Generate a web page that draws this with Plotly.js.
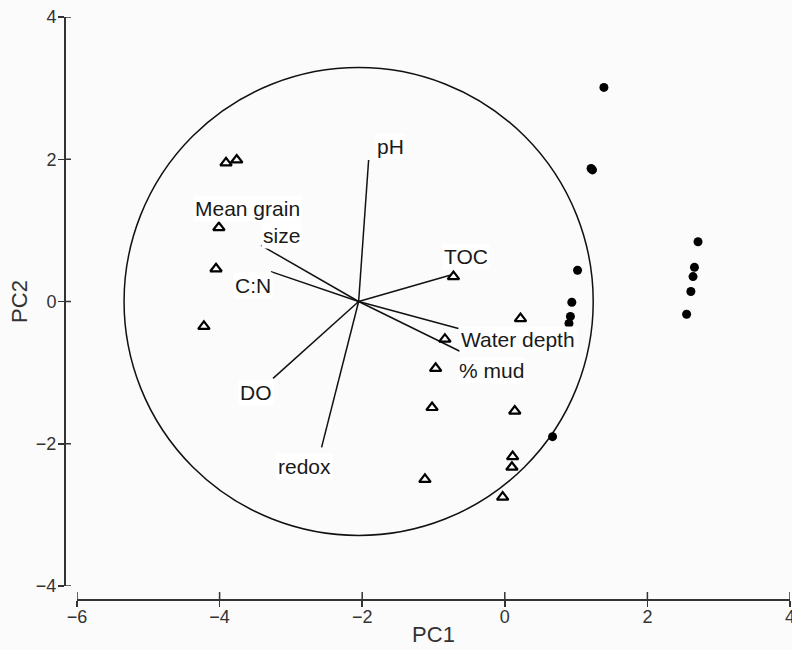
<!DOCTYPE html>
<html>
<head>
<meta charset="utf-8">
<script src="https://cdn.plot.ly/plotly-3.0.1.min.js"></script>
<style>html,body{margin:0;padding:0;background:#fbfbfb;}</style>
</head>
<body>
<div id="chart" style="width:792px;height:650px;"></div>
<script>
// Sample scores (triangles = open, circles = filled)
const triX = [-3.91, -3.76, -4.01, -4.05, -4.22, -0.72, 0.22, -0.84, -0.97, -1.02, 0.14, 0.11, 0.10, -1.12, -0.03];
const triY = [1.95, 1.99, 1.04, 0.46, -0.35, 0.35, -0.24, -0.53, -0.94, -1.49, -1.54, -2.18, -2.33, -2.50, -2.75];
const dotX = [1.39, 1.21, 1.23, 1.02, 0.94, 0.92, 0.90, 0.67, 2.71, 2.66, 2.64, 2.61, 2.55];
const dotY = [3.01, 1.87, 1.85, 0.44, -0.01, -0.21, -0.31, -1.90, 0.84, 0.48, 0.35, 0.14, -0.18];

// Environmental vectors (origin + end points)
const vecOrigin = [-2.05, 0.0];
const vecNames = ["pH", "Mean grain size", "C:N", "TOC", "Water depth", "% mud", "DO", "redox"];
const vecEndX = [-1.91, -3.42, -3.28, -0.77, -0.65, -0.63, -3.25, -2.57];
const vecEndY = [1.99, 0.79, 0.42, 0.37, -0.38, -0.70, -1.08, -2.05];

// Correlation circle
const circleRadius = 3.29;

// Axis ticks
const xTicks = [-6, -4, -2, 0, 2, 4];
const yTicks = [-4, -2, 0, 2, 4];

// Label placement (data coords), kept separate from values
const labelText = ["pH", "Mean grain", "size", "C:N", "TOC", "Water depth", "% mud", "DO", "redox"];
const labelX = [-1.61, -2.85, -2.85, -3.53, -0.55, 0.18, -0.18, -3.49, -2.81];
const labelY = [2.18, 1.31, 0.93, 0.22, 0.63, -0.53, -0.97, -1.28, -2.32];
const labelAnchor = ["center", "right", "right", "center", "center", "center", "center", "center", "center"];

const vx = [], vy = [];
for (let i = 0; i < vecNames.length; i++) {
  vx.push(vecOrigin[0], vecEndX[i], null);
  vy.push(vecOrigin[1], vecEndY[i], null);
}

const traces = [
  {x: vx, y: vy, mode: 'lines', line: {color: '#111', width: 1.5}, hoverinfo: 'skip', showlegend: false},
  {x: triX, y: triY, mode: 'markers', showlegend: false,
   marker: {symbol: 'triangle-up-open', size: 10, color: '#000', line: {width: 2.2, color: '#000'}}},
  {x: dotX, y: dotY, mode: 'markers', showlegend: false,
   marker: {symbol: 'circle', size: 9, color: '#000'}}
];

const labelFont = {family: 'Liberation Sans, Arial, sans-serif', size: 21, color: '#1a1a1a'};
const annotations = labelText.map((t, i) => ({
  x: labelX[i], y: labelY[i], xref: 'x', yref: 'y', text: t, showarrow: false,
  xanchor: labelAnchor[i], yanchor: 'middle', bgcolor: '#ffffff', borderpad: 1,
  font: labelFont
}));

const W = 792, H = 650;
const ml = 64, mr = 2, mt = 17, mb = 51;
const pw = W - ml - mr, ph = H - mt - mb;
const xDom = [(77 - ml) / pw, 1];
const yDom = [(599 - 586) / ph, 1];

const axFont = {family: 'Liberation Sans, Arial, sans-serif', size: 18, color: '#333'};
const titleFont = {family: 'Liberation Sans, Arial, sans-serif', size: 22, color: '#333'};
const common = {showgrid: false, zeroline: false, tickcolor: '#333', tickwidth: 1.5, automargin: false};

// inner halves of the crossing tick marks (axis decoration built from the tick arrays)
const tickShapes = [];
xTicks.forEach(t => tickShapes.push({
  type: 'line', xref: 'x', yref: 'paper', ysizemode: 'pixel', yanchor: 0,
  x0: t, x1: t, y0: 0, y1: 7, line: {color: '#333', width: 1.5}
}));
yTicks.forEach(t => tickShapes.push({
  type: 'line', yref: 'y', xref: 'paper', xsizemode: 'pixel', xanchor: 0,
  y0: t, y1: t, x0: 0, x1: 7, line: {color: '#333', width: 1.5}
}));

const layout = {
  width: W, height: H,
  margin: {l: ml, r: mr, t: mt, b: mb, pad: 0},
  paper_bgcolor: '#fbfbfb', plot_bgcolor: '#fbfbfb',
  showlegend: false,
  xaxis: Object.assign({}, common, {
    range: [-6, 4], domain: xDom, anchor: 'free', position: 0,
    showline: true, linecolor: '#333', linewidth: 1.5,
    ticks: 'outside', ticklen: 6, tickvals: xTicks, tickfont: axFont,
    ticklabeloverflow: 'allow', ticklabelstandoff: -5,
    title: {text: 'PC1', font: titleFont, standoff: 0}
  }),
  yaxis: Object.assign({}, common, {
    range: [-4, 4], domain: yDom, anchor: 'free', position: 0,
    showline: true, linecolor: '#333', linewidth: 1.5,
    ticks: 'outside', ticklen: 6, tickvals: yTicks, tickfont: axFont,
    ticklabeloverflow: 'allow', ticklabelstandoff: -2,
    title: {text: 'PC2', font: titleFont, standoff: 0}
  }),
  shapes: [{
    type: 'circle', xref: 'x', yref: 'y',
    x0: vecOrigin[0] - circleRadius, x1: vecOrigin[0] + circleRadius,
    y0: vecOrigin[1] - circleRadius, y1: vecOrigin[1] + circleRadius,
    line: {color: '#111', width: 1.5}, layer: 'below'
  }].concat(tickShapes),
  annotations: annotations
};

Plotly.newPlot('chart', traces, layout, {displayModeBar: false, staticPlot: true});
</script>
</body>
</html>
